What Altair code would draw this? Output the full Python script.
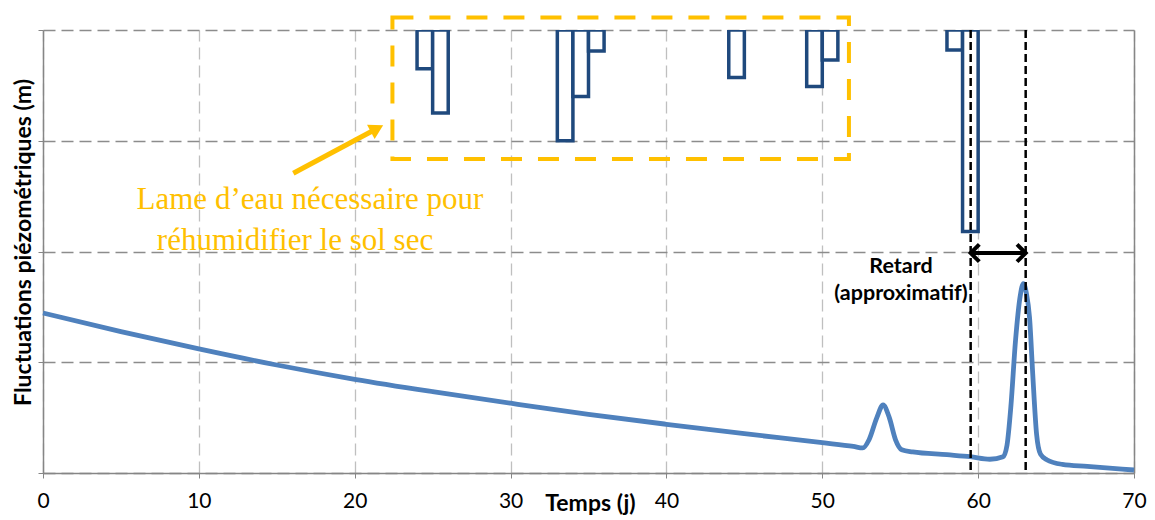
import altair as alt
import pandas as pd

# ---- data ----
days = [0, 5, 10, 15, 20, 25, 30, 35, 40, 45, 50, 52, 52.6, 53.0, 53.5, 53.9, 54.3,
        54.7, 55.1, 55.8, 58, 59.5, 60.75, 61.6, 61.85, 62.1, 62.4, 62.7, 62.9, 63.1,
        63.3, 63.5, 63.75, 64.0, 64.4, 65.4, 67, 70]
levels = [1.445, 1.276, 1.12, 0.975, 0.846, 0.734, 0.63, 0.53, 0.44, 0.355, 0.274,
          0.24, 0.226, 0.30, 0.50, 0.614, 0.50, 0.30, 0.21, 0.19, 0.165, 0.147, 0.124,
          0.147, 0.25, 0.6, 1.2, 1.6, 1.71, 1.62, 1.4, 0.9, 0.35, 0.17, 0.12, 0.078,
          0.06, 0.027]

rain_start = [24, 25, 33, 34, 35, 44, 49, 50, 58, 59]
rain_depth = [3.5, 7.5, 10.0, 6.0, 1.9, 4.3, 5.1, 2.7, 1.8, 18.2]

lag_lines = [59.52, 63.05]
lag_level = 1.986

retard_lines = ["Retard", "(approximatif)"]
retard_pos = [(55.05, 1.856), (55.05, 1.616)]

note_lines = ["Lame d\u2019eau nécessaire pour", "réhumidifier le sol sec"]
note_pos = [(17.13, 2.384), (16.17, 2.014)]

box = dict(x1=22.42, x2=51.71, y1=2.835, y2=4.113)
arrow = dict(x1=16.06, y1=2.706, x2=21.43, y2=3.11)

x_ticks = list(range(0, 71, 10))
y_ticks = [0, 1, 2, 3, 4]

# ---- tables ----
line_df = pd.DataFrame({"t": days, "h": levels})
rain_df = pd.DataFrame({"t0": rain_start, "p": rain_depth})
rain_df["t1"] = rain_df["t0"] + 1
vl_df = pd.DataFrame({"t": lag_lines})
lag_df = pd.DataFrame({"a": [lag_lines[0]], "b": [lag_lines[1]], "y": [lag_level]})
heads_df = pd.DataFrame({"t": lag_lines, "y": [lag_level, lag_level],
                         "side": ["l", "r"]})
retard_df = pd.DataFrame({"txt": retard_lines, "x": [p[0] for p in retard_pos],
                          "y": [p[1] for p in retard_pos]})
note_df = pd.DataFrame({"txt": note_lines, "x": [p[0] for p in note_pos],
                        "y": [p[1] for p in note_pos]})
box_df = pd.DataFrame([box])
arrow_df = pd.DataFrame([arrow])

XS = alt.Scale(domain=[0, 70], nice=False, zero=False, padding=0)
YS = alt.Scale(domain=[0, 4], nice=False, zero=False, padding=0)
FONT = "Lato"
GRAY = "#868686"

x_axis = alt.Axis(values=x_ticks, labelFontSize=21, labelFont=FONT, labelColor="#000000",
                  labelPadding=12, tickSize=5, tickColor=GRAY, domainColor=GRAY,
                  domainWidth=1.5, grid=True, gridColor="#BFBFBF", gridDash=[12, 6],
                  gridWidth=1.3, title="Temps (j)", titleFont=FONT, titleFontSize=23,
                  titleFontWeight="bold", titleX=547, titleY=30,
                  titleBaseline="middle", titleAlign="center", labelFlush=False)
y_axis = alt.Axis(values=y_ticks, labels=False, tickSize=5, tickColor=GRAY,
                  domainColor=GRAY, domainWidth=1.5, grid=True, gridColor="#8C8C8C",
                  gridDash=[12, 6], gridWidth=1.3,
                  title="Fluctuations piézométriques (m)", titleFont=FONT,
                  titleFontSize=23, titleFontWeight="bold", titleX=-20, titleY=212,
                  titleBaseline="middle", titleAlign="center")


def X(f):
    return alt.X(f, type="quantitative", scale=XS, axis=x_axis)


def Y(f):
    return alt.Y(f, type="quantitative", scale=YS, axis=y_axis)


line = alt.Chart(line_df).mark_line(color="#4F81BD", strokeWidth=4.8,
                                    interpolate="monotone").encode(
    x=X("t"), y=Y("h"),
)

vlines = alt.Chart(vl_df).mark_rule(color="#000000", strokeWidth=2.5,
                                    strokeDash=[8, 4]).encode(
    x=X("t")
)

lag = alt.Chart(lag_df).mark_rule(color="#000000", strokeWidth=4).encode(
    x=X("a"), x2="b", y=Y("y")
)

heads = alt.Chart(heads_df).mark_point(filled=False, stroke="#000000", strokeWidth=4,
                                       size=300, opacity=1).encode(
    x=X("t"), y=Y("y"),
    shape=alt.Shape("side:N", legend=None,
                    scale=alt.Scale(domain=["l", "r"],
                                    range=["M1,-1L0,0L1,1", "M-1,-1L0,0L-1,1"])),
)

retard = alt.Chart(retard_df).mark_text(font=FONT, fontSize=21.5, fontWeight="bold",
                                        color="#000000", align="center",
                                        baseline="middle").encode(
    x=X("x"), y=Y("y"), text="txt:N"
)

yellow = "#FFC000"
ybox = alt.Chart(box_df).mark_rect(fill="transparent", stroke=yellow, strokeWidth=4,
                                   strokeDash=[21, 16]).encode(
    x=X("x1"), x2="x2", y=Y("y1"), y2="y2"
)

yarrow = alt.Chart(arrow_df).mark_rule(color=yellow, strokeWidth=5).encode(
    x=X("x1"), x2="x2", y=Y("y1"), y2="y2"
)
yhead = alt.Chart(arrow_df).mark_point(shape="triangle-up", filled=True, color=yellow,
                                       size=260, angle=62, opacity=1).encode(
    x=X("x2"), y=Y("y2")
)

note = alt.Chart(note_df).mark_text(font="Liberation Serif", fontSize=31, color=yellow,
                                    align="center", baseline="alphabetic").encode(
    x=X("x"), y=Y("y"), text="txt:N"
)

RS = alt.Scale(domain=[0, 40], reverse=True, nice=False, zero=True, padding=0)
bars = alt.Chart(rain_df).mark_bar(fill="#FFFFFF", stroke="#1F497D", strokeWidth=3.5,
                                   clip=True, orient="vertical").encode(
    x=X("t0"),
    x2="t1",
    y=alt.Y("p:Q", scale=RS,
            axis=alt.Axis(orient="right", labels=False, ticks=False, grid=False,
                          title="", domainColor=GRAY, domainWidth=1.5)),
)

main = alt.layer(line, vlines, lag, heads, retard, ybox, yarrow, yhead, note)

chart = alt.layer(bars, main).resolve_scale(y="independent").properties(
    width=1091, height=443,
    padding={"left": 35, "top": 22, "right": 13, "bottom": 45},
    autosize=alt.AutoSizeParams(type="none"),
    background="#FFFFFF",
).configure_view(stroke="transparent")

chart.save("out.html", embed_options={"renderer": "svg", "actions": False})
